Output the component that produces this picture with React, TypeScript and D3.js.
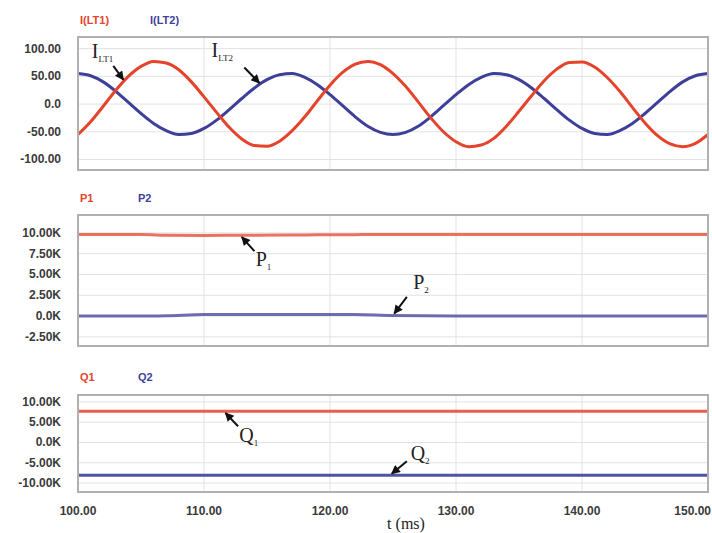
import React from 'react'
import * as d3 from 'd3'

// time samples (ms) for the currents, every 1 ms
const tCurr = d3.range(100, 151)
const iLT1 = [-55, -32, -4, 25, 50, 68, 77, 74, 62, 40, 13, -15, -42, -63, -75, -76, -67, -48, -23, 6, 34, 57, 72, 77, 71, 55, 32, 4, -25, -50, -68, -77, -74, -62, -40, -13, 15, 42, 63, 75, 76, 67, 48, 23, -6, -34, -57, -72, -77, -71, -55]
const iLT2 = [55, 51, 40, 23, 3, -17, -35, -48, -55, -53, -44, -29, -10, 10, 29, 44, 53, 55, 48, 35, 17, -3, -23, -40, -51, -55, -51, -40, -23, -3, 17, 35, 48, 55, 53, 44, 29, 10, -10, -29, -44, -53, -55, -48, -35, -17, 3, 23, 40, 51, 55]

// powers
const tPow = [100, 105, 107, 110, 113, 118, 122, 125, 130, 140, 150]
const p1 = [9800, 9800, 9720, 9680, 9720, 9760, 9790, 9800, 9800, 9800, 9800]
const p2 = [0, 0, 40, 180, 200, 200, 180, 60, 0, 0, 0]
const q1 = [7700, 7700, 7700, 7700, 7700, 7700, 7700, 7700, 7700, 7700, 7700]
const q2 = [-8100, -8100, -8100, -8100, -8100, -8100, -8100, -8100, -8100, -8100, -8100]

const xTicks = [100, 110, 120, 130, 140, 150]
const iTicks = [100, 50, 0, -50, -100]
const iTickLabels = ['100.00', '50.00', '0.0', '-50.00', '-100.00']
const pTicks = [10000, 7500, 5000, 2500, 0, -2500]
const pTickLabels = ['10.00K', '7.50K', '5.00K', '2.50K', '0.0K', '-2.50K']
const qTicks = [10000, 5000, 0, -5000, -10000]
const qTickLabels = ['10.00K', '5.00K', '0.0K', '-5.00K', '-10.00K']

const RED = '#e5432b'
const BLUE = '#3d3f98'

const W = 712
const H = 533
const left = 78
const right = 708

const x = d3.scaleLinear().domain([100, 150]).range([left, right])

type Panel = {
  top: number
  bottom: number
  domain: [number, number]
  ticks: number[]
  labels: string[]
  legend: [string, string]
  legendY: number
  series: { t: number[]; v: number[]; color: string; width: number; opacity: number }[]
}

const panels: Panel[] = [
  {
    top: 37, bottom: 170, domain: [-119, 121], ticks: iTicks, labels: iTickLabels,
    legend: ['I(LT1)', 'I(LT2)'], legendY: 24,
    series: [
      { t: tCurr, v: iLT2, color: BLUE, width: 3, opacity: 1 },
      { t: tCurr, v: iLT1, color: RED, width: 3, opacity: 1 },
    ],
  },
  {
    top: 215, bottom: 346, domain: [-3600, 12150], ticks: pTicks, labels: pTickLabels,
    legend: ['P1', 'P2'], legendY: 202,
    series: [
      { t: tPow, v: p1, color: RED, width: 3, opacity: 0.75 },
      { t: tPow, v: p2, color: BLUE, width: 3, opacity: 0.75 },
    ],
  },
  {
    top: 395, bottom: 492, domain: [-12200, 11700], ticks: qTicks, labels: qTickLabels,
    legend: ['Q1', 'Q2'], legendY: 381,
    series: [
      { t: tPow, v: q1, color: RED, width: 3, opacity: 0.85 },
      { t: tPow, v: q2, color: BLUE, width: 3, opacity: 0.9 },
    ],
  },
]

// annotation arrows: label, subscript, text position, arrow start -> tip (in data coords)
const notes = [
  { p: 0, main: 'I', sub: 'LT1', tx: 101.1, ty: 84, x1: 102.8, y1: 69, x2: 103.6, y2: 44 },
  { p: 0, main: 'I', sub: 'LT2', tx: 110.6, ty: 85, x1: 113.2, y1: 66, x2: 114.4, y2: 38 },
  { p: 1, main: 'P', sub: '1', tx: 114.1, ty: 6050, x1: 114.0, y1: 7800, x2: 113.0, y2: 9500 },
  { p: 1, main: 'P', sub: '2', tx: 126.6, ty: 3250, x1: 126.1, y1: 2300, x2: 125.1, y2: 300 },
  { p: 2, main: 'Q', sub: '1', tx: 112.8, ty: 0, x1: 112.7, y1: 4000, x2: 111.7, y2: 7300 },
  { p: 2, main: 'Q', sub: '2', tx: 126.4, ty: -4300, x1: 126.1, y1: -4600, x2: 124.9, y2: -7700 },
]

const sans = '"Liberation Sans", Arial, sans-serif'
const serif = '"Liberation Serif", "Times New Roman", serif'

export default function App() {
  return (
    <svg width={W} height={H} style={{ position: 'absolute', left: 0, top: 0, background: '#fff' }}>
      <defs>
        <marker id="arr" viewBox="0 0 10 10" refX="9" refY="5" markerWidth="6" markerHeight="4.5" orient="auto">
          <path d="M0,0 L10,5 L0,10 z" fill="#111" />
        </marker>
        {panels.map((p, i) => (
          <clipPath id={`clip${i}`} key={i}>
            <rect x={left} y={p.top} width={right - left} height={p.bottom - p.top} />
          </clipPath>
        ))}
      </defs>
      {panels.map((p, i) => {
        const y = d3.scaleLinear().domain(p.domain).range([p.bottom, p.top])
        const line = d3.line<[number, number]>().x(d => x(d[0])).y(d => y(d[1])).curve(d3.curveMonotoneX)
        return (
          <g key={i}>
            <text x={80} y={p.legendY} fontFamily={sans} fontSize={11} fontWeight="bold" fill={RED}>{p.legend[0]}</text>
            <text x={i === 0 ? 150 : 138} y={p.legendY} fontFamily={sans} fontSize={11} fontWeight="bold" fill={BLUE}>{p.legend[1]}</text>
            <rect x={left} y={p.top} width={right - left} height={p.bottom - p.top} fill="#fff" />
            {p.ticks.map(t => (
              <line key={t} x1={left} x2={right} y1={y(t)} y2={y(t)} stroke="#e2e2e2" strokeWidth={1} />
            ))}
            {xTicks.slice(1, -1).map(t => (
              <line key={t} x1={x(t)} x2={x(t)} y1={p.top} y2={p.bottom} stroke="#e2e2e2" strokeWidth={1} />
            ))}
            <g clipPath={`url(#clip${i})`}>
              {p.series.map((s, k) => (
                <path key={k} d={line(s.t.map((t, j) => [t, s.v[j]] as [number, number])) || ''}
                  fill="none" stroke={s.color} strokeWidth={s.width} strokeOpacity={s.opacity} strokeLinejoin="round" />
              ))}
            </g>
            <rect x={left} y={p.top} width={right - left} height={p.bottom - p.top} fill="none" stroke="#b0b0b0" strokeWidth={2} />
            {p.ticks.map((t, k) => (
              <text key={t} x={61} y={y(t) + 4} textAnchor="end" fontFamily={sans} fontSize={12} fontWeight="bold" fill="#3a3a3a">{p.labels[k]}</text>
            ))}
          </g>
        )
      })}
      {notes.map((n, i) => {
        const p = panels[n.p]
        const y = d3.scaleLinear().domain(p.domain).range([p.bottom, p.top])
        return (
          <g key={i}>
            <line x1={x(n.x1)} y1={y(n.y1)} x2={x(n.x2)} y2={y(n.y2)} stroke="#111" strokeWidth={2} markerEnd="url(#arr)" />
            <text x={x(n.tx)} y={y(n.ty)} fontFamily={serif} fontSize={20} fill="#222">
              {n.main}
              <tspan fontSize={9} dy={4}>{n.sub}</tspan>
            </text>
          </g>
        )
      })}
      {xTicks.map((t, k) => (
        <text key={t} x={k === xTicks.length - 1 ? 711 : x(t)} y={515}
          textAnchor={k === xTicks.length - 1 ? 'end' : 'middle'}
          fontFamily={sans} fontSize={12} fontWeight="bold" fill="#3a3a3a">{t.toFixed(2)}</text>
      ))}
      <text x={406} y={529} textAnchor="middle" fontFamily={serif} fontSize={16} fill="#222">t (ms)</text>
    </svg>
  )
}
